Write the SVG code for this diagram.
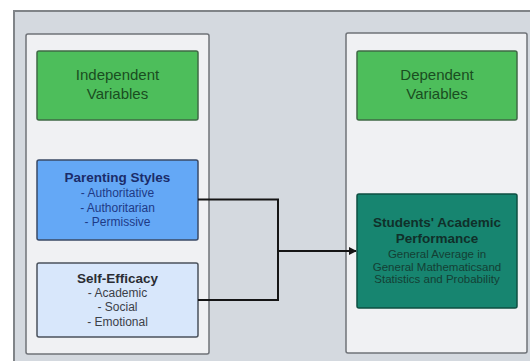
<svg xmlns="http://www.w3.org/2000/svg" width="530" height="361" viewBox="0 0 530 361">
  <defs>
    <style>
      .frame { fill: #d4d9df; stroke: #808488; stroke-width: 2; }
      .panel { fill: #f0f1f3; stroke: #6f7378; stroke-width: 1.5; }
      .head { fill: #4dbe5b; stroke: #3f6a45; stroke-width: 1.5; }
      .head-t { font-family: "Liberation Sans", Arial, sans-serif; font-size: 15px; fill: #1a4d21; text-anchor: middle; }
      .ps { fill: #64a8f6; stroke: #3a4a66; stroke-width: 1.5; }
      .se { fill: #d8e7fb; stroke: #4a525c; stroke-width: 1.5; }
      .dv { fill: #178570; stroke: #0e4f42; stroke-width: 1.5; }
      .title { font-family: "Liberation Sans", Arial, sans-serif; font-size: 13.5px; font-weight: bold; text-anchor: middle; }
      .item { font-family: "Liberation Sans", Arial, sans-serif; font-size: 12px; text-anchor: middle; }
      .small { font-family: "Liberation Sans", Arial, sans-serif; font-size: 11.5px; text-anchor: middle; }
      .conn { fill: none; stroke: #151515; stroke-width: 2; }
    </style>
    <marker id="arrow" viewBox="0 0 10 10" refX="9" refY="5" markerWidth="4" markerHeight="4" orient="auto">
      <path d="M0,0 L10,5 L0,10 z" fill="#151515"/>
    </marker>
  </defs>

  <rect width="530" height="361" fill="#ffffff"/>

  <!-- outer framing area -->
  <rect class="frame" x="14" y="11" width="530" height="360"/>

  <!-- side panels -->
  <g id="panel-independent">
    <rect class="panel" x="26" y="34" width="183" height="320" rx="2"/>
  </g>
  <g id="panel-dependent">
    <rect class="panel" x="346" y="33" width="181" height="320" rx="2"/>
  </g>

  <g id="independent-variables">
    <rect class="head" x="37" y="51" width="161" height="69" rx="2"/>
    <text class="head-t" x="117.5" y="80">Independent</text>
    <text class="head-t" x="117.5" y="99">Variables</text>
  </g>

  <g id="dependent-variables">
    <rect class="head" x="357" y="51" width="160" height="69" rx="2"/>
    <text class="head-t" x="437" y="80">Dependent</text>
    <text class="head-t" x="437" y="99">Variables</text>
  </g>

  <g id="parenting-styles">
    <rect class="ps" x="37" y="160" width="161" height="80" rx="2"/>
    <text class="title" x="117.5" y="182" fill="#1b2c6a">Parenting Styles</text>
    <text class="item" x="117.5" y="197" fill="#1e3a86">- Authoritative</text>
    <text class="item" x="117.5" y="211.5" fill="#1e3a86">- Authoritarian</text>
    <text class="item" x="117.5" y="226" fill="#1e3a86">- Permissive</text>
  </g>

  <g id="self-efficacy">
    <rect class="se" x="37" y="263" width="161" height="74" rx="2"/>
    <text class="title" x="117.5" y="283" fill="#2a2d33">Self-Efficacy</text>
    <text class="item" x="117.5" y="297" fill="#3b4048">- Academic</text>
    <text class="item" x="117.5" y="311" fill="#3b4048">- Social</text>
    <text class="item" x="117.5" y="325.5" fill="#3b4048">- Emotional</text>
  </g>

  <g id="academic-performance">
    <rect class="dv" x="357" y="194" width="160" height="114" rx="2"/>
    <text class="title" x="437" y="227" fill="#10302a">Students' Academic</text>
    <text class="title" x="437" y="243" fill="#10302a">Performance</text>
    <text class="small" x="437" y="258" fill="#143f34">General Average in</text>
    <text class="small" x="437" y="270.5" fill="#143f34">General Mathematicsand</text>
    <text class="small" x="437" y="283" fill="#143f34">Statistics and Probability</text>
  </g>

  <g id="connectors">
    <path class="conn" d="M198,199.5 H278 V300 H198"/>
    <path class="conn" d="M278,251 H356" marker-end="url(#arrow)"/>
  </g>
</svg>
